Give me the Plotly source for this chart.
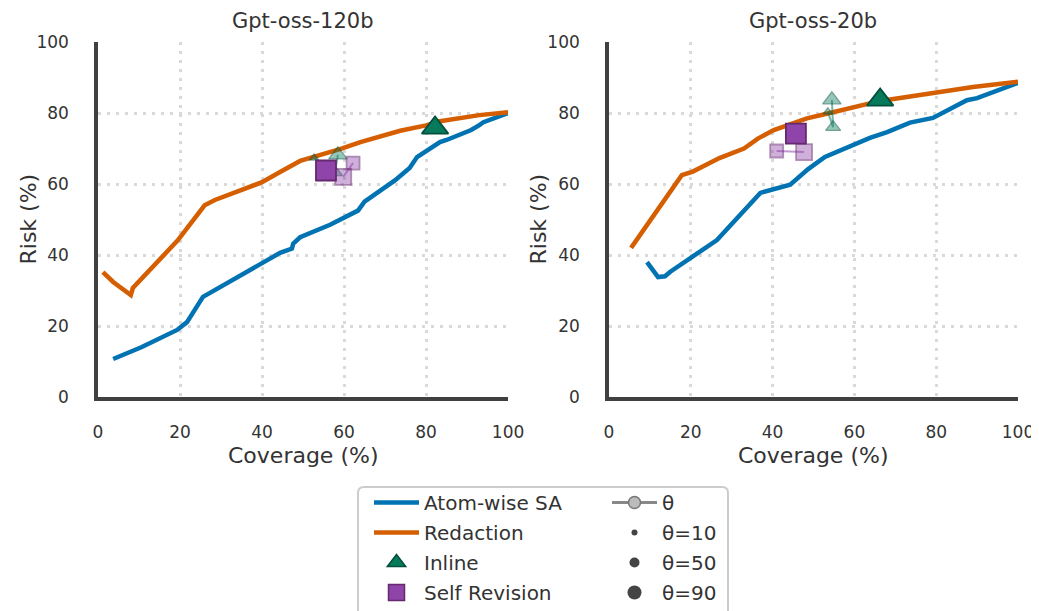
import plotly.graph_objects as go

# ---------------- data ----------------
panels = ["Gpt-oss-120b", "Gpt-oss-20b"]

# Atom-wise SA curves (coverage %, risk %)
sa_120_cov = [3.7, 10.7, 19.3, 21.7, 25.6, 44.4, 47.3, 47.6, 49.3, 56.6, 63.4, 65.0, 72.4, 76.0, 77.8, 78.3, 83.4, 85.0, 88.3, 91.0, 93.0, 94.0, 100]
sa_120_risk = [10.7, 14.1, 18.9, 21.1, 28.2, 40.6, 41.8, 43.2, 45.0, 48.5, 52.5, 55.0, 61.0, 64.5, 67.6, 68.0, 71.8, 72.4, 73.8, 75.2, 76.6, 77.4, 80.0]
sa_20_cov = [9.3, 12.0, 13.7, 15.0, 26.4, 37.0, 44.3, 48.7, 52.8, 60.0, 63.8, 68.0, 73.6, 79.2, 83.0, 87.5, 90.0, 100]
sa_20_risk = [38.0, 33.8, 34.0, 35.3, 44.2, 57.5, 59.8, 64.2, 67.6, 71.0, 73.0, 74.6, 77.3, 78.6, 81.0, 83.6, 84.2, 88.5]

# Redaction curves
red_120_cov = [1.2, 3.7, 8.0, 8.5, 19.5, 26.0, 28.5, 40.0, 44.4, 49.3, 59.0, 64.0, 73.7, 80.0, 83.4, 93.0, 100]
red_120_risk = [35.2, 32.4, 28.7, 30.7, 44.2, 54.0, 55.5, 60.5, 63.4, 66.5, 69.8, 71.8, 75.0, 76.5, 77.7, 79.4, 80.2]
red_20_cov = [5.4, 17.8, 20.5, 27.0, 33.0, 36.4, 40.3, 45.7, 48.4, 54.0, 58.9, 66.3, 73.2, 81.0, 89.0, 100]
red_20_risk = [42.0, 62.5, 63.5, 67.3, 70.0, 72.8, 75.2, 77.3, 78.5, 80.0, 81.4, 83.4, 84.6, 86.0, 87.3, 88.8]

# Main (default) points
inline_main_cov = [82.2, 66.3]
inline_main_risk = [75.8, 83.7]
sr_main_cov = [55.6, 45.7]
sr_main_risk = [63.8, 74.2]

# theta sweeps
inline_120_theta = [10, 50, 90]
inline_120_cov = [52.7, 57.8, 58.5]
inline_120_risk = [67.3, 63.3, 68.2]
inline_20_theta = [10, 50, 90]
inline_20_cov = [53.5, 54.8, 54.5]
inline_20_risk = [80.3, 76.0, 83.7]
sr_120_theta = [50, 90]
sr_120_cov = [62.2, 59.8]
sr_120_risk = [65.9, 62.0]
sr_20_theta = [50, 90]
sr_20_cov = [41.0, 47.7]
sr_20_risk = [69.3, 69.0]

theta_levels = [10, 50, 90]
x_ticks = [0, 20, 40, 60, 80, 100]
y_ticks = [0, 20, 40, 60, 80, 100]

# ---------------- style ----------------
BLUE = "#0173b2"
ORANGE = "#d55e00"
GREEN = "#087a5c"
GREEN_EDGE = "#04503c"
PURPLE = "#8e44a8"
PURPLE_EDGE = "#66286e"
FONT = "DejaVu Sans"
TXT = "#333333"

theta_size = {10: 8, 50: 13, 90: 16}
theta_legend_size = {10: 6, 50: 10, 90: 14}

# page is shown with an 8px body margin, so the figure is 8px smaller
W, H = 1031, 603
ML, MR, MT, MB = 90, 21, 34, 214
PW, PH = W - ML - MR, H - MT - MB  # 920 x 355
DOM1 = [0, 0.4457]
DOM2 = [0.5554, 1]

fig = go.Figure()

sa = [(sa_120_cov, sa_120_risk), (sa_20_cov, sa_20_risk)]
red = [(red_120_cov, red_120_risk), (red_20_cov, red_20_risk)]
inl = [(inline_120_theta, inline_120_cov, inline_120_risk), (inline_20_theta, inline_20_cov, inline_20_risk)]
srs = [(sr_120_theta, sr_120_cov, sr_120_risk), (sr_20_theta, sr_20_cov, sr_20_risk)]

for i in range(2):
    xa = "x" if i == 0 else "x2"
    ya = "y" if i == 0 else "y2"
    fig.add_trace(go.Scatter(x=sa[i][0], y=sa[i][1], mode="lines",
                             line=dict(color=BLUE, width=4.5), xaxis=xa, yaxis=ya,
                             showlegend=False, hoverinfo="skip"))
    fig.add_trace(go.Scatter(x=red[i][0], y=red[i][1], mode="lines",
                             line=dict(color=ORANGE, width=4.5), xaxis=xa, yaxis=ya,
                             showlegend=False, hoverinfo="skip"))
    # theta sweeps (translucent)
    th, cv, rk = inl[i]
    fig.add_trace(go.Scatter(x=cv, y=rk, mode="lines+markers", xaxis=xa, yaxis=ya,
                             line=dict(color="rgba(8,122,92,0.55)", width=2),
                             marker=dict(symbol="triangle-up", size=[theta_size[t] for t in th],
                                         color="rgba(8,122,92,0.6)",
                                         line=dict(color="rgba(4,80,60,0.7)", width=1.3)),
                             showlegend=False, hoverinfo="skip"))
    th, cv, rk = srs[i]
    fig.add_trace(go.Scatter(x=cv, y=rk, mode="lines+markers", xaxis=xa, yaxis=ya,
                             line=dict(color="rgba(142,68,168,0.55)", width=2),
                             marker=dict(symbol="square", size=[theta_size[t] for t in th],
                                         color="rgba(142,68,168,0.6)",
                                         line=dict(color="rgba(102,40,110,0.7)", width=1.8)),
                             showlegend=False, hoverinfo="skip"))
    # main points
    fig.add_trace(go.Scatter(x=[sr_main_cov[i]], y=[sr_main_risk[i]], mode="markers", xaxis=xa, yaxis=ya,
                             marker=dict(symbol="square", size=20, color=PURPLE,
                                         line=dict(color=PURPLE_EDGE, width=1.8)),
                             showlegend=False, hoverinfo="skip"))
    fig.add_trace(go.Scatter(x=[inline_main_cov[i]], y=[inline_main_risk[i]], mode="markers", xaxis=xa, yaxis=ya,
                             marker=dict(symbol="triangle-up", size=23, color=GREEN,
                                         line=dict(color=GREEN_EDGE, width=1.8)),
                             showlegend=False, hoverinfo="skip"))

# legend entries (column 1)
fig.add_trace(go.Scatter(x=[None], y=[None], mode="lines", name="Atom-wise SA", legendgroup="a",
                         line=dict(color=BLUE, width=4.5), legend="legend"))
fig.add_trace(go.Scatter(x=[None], y=[None], mode="lines", name="Redaction", legendgroup="b",
                         line=dict(color=ORANGE, width=4.5), legend="legend"))
fig.add_trace(go.Scatter(x=[None], y=[None], mode="markers", name="Inline", legendgroup="c",
                         marker=dict(symbol="triangle-up", size=20, color=GREEN,
                                     line=dict(color=GREEN_EDGE, width=1.5)), legend="legend"))
fig.add_trace(go.Scatter(x=[None], y=[None], mode="markers", name="Self Revision", legendgroup="d",
                         marker=dict(symbol="square", size=16, color=PURPLE,
                                     line=dict(color=PURPLE_EDGE, width=1.5)), legend="legend"))
# legend entries (column 2)
fig.add_trace(go.Scatter(x=[None], y=[None], mode="lines+markers", name="θ", legendgroup="e",
                         line=dict(color="#888888", width=3),
                         marker=dict(symbol="circle", size=12, color="#bbbbbb",
                                     line=dict(color="#777777", width=1.5)), legend="legend2"))
for t in theta_levels:
    fig.add_trace(go.Scatter(x=[None], y=[None], mode="markers", name=f"θ={t}", legendgroup=f"t{t}",
                             marker=dict(symbol="circle", size=theta_legend_size[t], color="#444444"),
                             legend="legend2"))

axis_common = dict(range=[0, 100], showline=True, linecolor="#404040", linewidth=3.5,
                   mirror=False, showgrid=True, gridcolor="#d9d9d9", gridwidth=2.5,
                   griddash="3px,6px", zeroline=False, ticks="outside", automargin=False,
                   tickcolor="rgba(0,0,0,0)", tickfont=dict(family=FONT, size=17, color=TXT),
                   fixedrange=True)

legend_common = dict(xref="container", yref="container", xanchor="left", yanchor="top",
                     bgcolor="rgba(0,0,0,0)", font=dict(family=FONT, size=20, color=TXT),
                     borderwidth=0, itemwidth=45, traceorder="grouped", tracegroupgap=1)

fig.update_layout(
    width=W, height=H,
    margin=dict(l=ML, r=MR, t=MT, b=MB, autoexpand=False),
    paper_bgcolor="white", plot_bgcolor="white",
    font=dict(family=FONT, color=TXT),
    xaxis=dict(domain=DOM1, anchor="y", tickvals=x_ticks, ticklen=17, **axis_common),
    xaxis2=dict(domain=DOM2, anchor="y2", tickvals=x_ticks, ticklen=17, **axis_common),
    yaxis=dict(domain=[0, 1], anchor="x", tickvals=y_ticks, ticklen=22, **axis_common),
    yaxis2=dict(domain=[0, 1], anchor="x2", tickvals=y_ticks, ticklen=22, **axis_common),
    legend=dict(x=361 / W, y=1 - 475 / H, **legend_common),
    legend2=dict(x=599 / W, y=1 - 475 / H, **legend_common),
    showlegend=True,
)

def px_to_paper_x(px):
    return (px - 8 - ML) / PW

def px_to_paper_y(py):
    return (H - MB - (py - 8)) / PH

for i, name in enumerate(panels):
    dom = DOM1 if i == 0 else DOM2
    cx = (dom[0] + dom[1]) / 2
    # subplot title (top of its box at the top edge of the figure)
    fig.add_annotation(text=name, x=cx, y=px_to_paper_y(8), xref="paper", yref="paper",
                       showarrow=False, xanchor="center", yanchor="top", borderpad=0,
                       font=dict(family=FONT, size=21, color=TXT))
    # x-axis title
    fig.add_annotation(text="Coverage (%)", x=cx, y=px_to_paper_y(455), xref="paper", yref="paper",
                       showarrow=False, xanchor="center", yanchor="middle",
                       font=dict(family=FONT, size=22, color=TXT))
    # y-axis title
    fig.add_annotation(text="Risk (%)", x=px_to_paper_x(28 if i == 0 else 538), y=0.5,
                       xref="paper", yref="paper", textangle=-90,
                       showarrow=False, xanchor="center", yanchor="middle",
                       font=dict(family=FONT, size=22, color=TXT))

# legend frame (rounded rectangle)
x0, x1 = px_to_paper_x(358), px_to_paper_x(728)
y0, y1 = px_to_paper_y(616), px_to_paper_y(487)
rx, ry = 6 / PW, 6 / PH
path = (f"M {x0+rx},{y1} L {x1-rx},{y1} Q {x1},{y1} {x1},{y1-ry} "
        f"L {x1},{y0+ry} Q {x1},{y0} {x1-rx},{y0} L {x0+rx},{y0} Q {x0},{y0} {x0},{y0+ry} "
        f"L {x0},{y1-ry} Q {x0},{y1} {x0+rx},{y1} Z")
fig.add_shape(type="path", path=path, xref="paper", yref="paper",
              line=dict(color="#cccccc", width=2), fillcolor="rgba(255,255,255,0)", layer="below")

fig.write_html("out.html")
